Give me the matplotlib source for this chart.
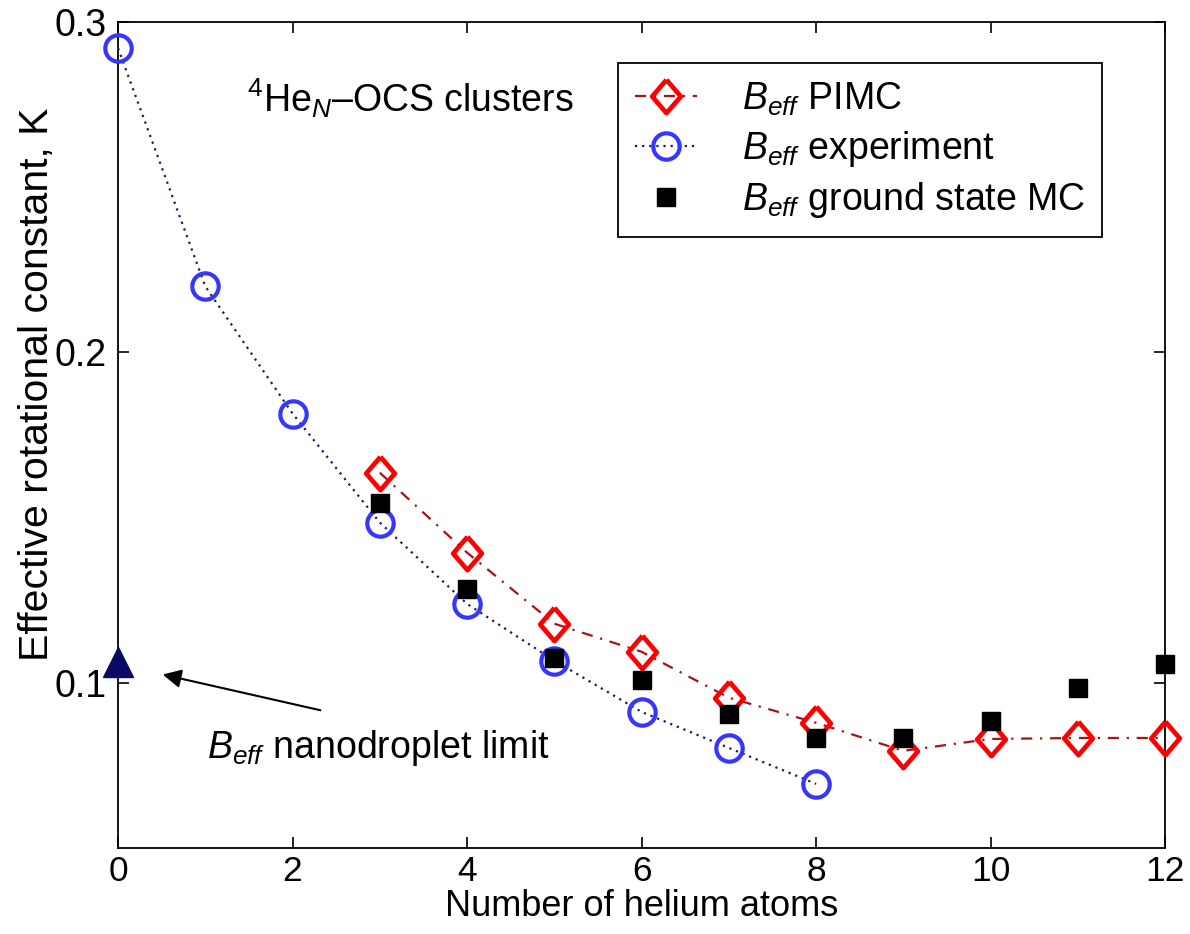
import numpy as np
import matplotlib
matplotlib.use('Agg')
import matplotlib.pyplot as plt

plt.rcParams['font.family'] = ['Liberation Sans', 'DejaVu Sans']
plt.rcParams['mathtext.fontset'] = 'custom'
plt.rcParams['mathtext.rm'] = 'Liberation Sans'
plt.rcParams['mathtext.it'] = 'Liberation Sans:italic'
plt.rcParams['mathtext.bf'] = 'Liberation Sans:bold'

# data (B in K)
n_pimc = np.arange(3, 13)
b_pimc = [0.1636, 0.1394, 0.1179, 0.1094, 0.0955, 0.0879, 0.0794, 0.0830, 0.0833, 0.0833]
n_exp = np.arange(0, 9)
b_exp = [0.2921, 0.2200, 0.1815, 0.1485, 0.1239, 0.1067, 0.0912, 0.0803, 0.0694]
n_mc = np.arange(3, 13)
b_mc = [0.1545, 0.1285, 0.1076, 0.1009, 0.0906, 0.0833, 0.0833, 0.0885, 0.0985, 0.1058]
n_drop = [0]
b_drop = [0.1064]

xticks = [0, 2, 4, 6, 8, 10, 12]
yticks = [0.1, 0.2, 0.3]
ytick_labels = ['0.1', '0.2', '0.3']

fs = 27
diamond = [(0, 1), (0.86, 0), (0, -1), (-0.86, 0), (0, 1)]

fig = plt.figure(figsize=(11.9, 9.34), dpi=100)
ax = fig.add_axes([0.0992, 0.0921, 0.8798, 0.8843])

ax.plot(n_pimc, b_pimc, color='#a51515', lw=1.6, dashes=(5, 3.5, 1, 3.5),
        marker=diamond, ms=24, mfc='none', mec='#ff0000', mew=3.4,
        clip_on=False, label=r'$B_{eff}$ PIMC', zorder=3)
ax.plot(n_exp, b_exp, color='#1c1c5c', lw=1.6, dashes=(1, 2.2),
        marker='o', ms=19, mfc='none', mec='#3636ff', mew=3.0,
        clip_on=False, label=r'$B_{eff}$ experiment', zorder=4)
ax.plot(n_mc, b_mc, ls='none', marker='s', ms=13.5, mfc='k', mec='k',
        clip_on=False, label=r'$B_{eff}$ ground state MC', zorder=5)
ax.plot(n_drop, b_drop, ls='none', marker='^', ms=22, mfc='#0a0a66', mec='#0a0a66',
        clip_on=False, zorder=5)

ax.annotate('', xy=(0.48, 0.1027), xytext=(2.35, 0.0915),
            arrowprops=dict(arrowstyle='-|>', color='k', lw=1.5, mutation_scale=28))
ax.text(1.02, 0.0773, r'$B_{eff}$ nanodroplet limit', fontsize=fs, va='baseline')
ax.text(0.1232, 0.891, r'${}^4$He$_N$–OCS clusters', fontsize=fs,
        transform=ax.transAxes, va='baseline')

ax.set_xlim(0, 12)
ax.set_ylim(0.05, 0.3)
ax.set_xticks(xticks)
ax.set_yticks(yticks)
ax.set_yticklabels(ytick_labels)
ax.tick_params(direction='in', length=8, width=1.2, top=True, right=True,
               labelsize=fs)
ax.tick_params(axis='x', pad=5, labelsize=25.5)
ax.tick_params(axis='y', pad=8)
for s in ax.spines.values():
    s.set_linewidth(1.3)

ax.set_xlabel('Number of helium atoms', fontsize=26, labelpad=0.5)
ax.set_ylabel('Effective rotational constant, K', fontsize=29.5)
ax.yaxis.set_label_coords(-0.059, 0.562)

leg = ax.legend(loc='upper right', bbox_to_anchor=(0.94, 0.95), fontsize=fs,
                frameon=True, fancybox=False, edgecolor='k', framealpha=1,
                handlelength=1.65, handletextpad=1.2, labelspacing=0.3,
                borderpad=0.45, borderaxespad=0)
leg.get_frame().set_linewidth(1.3)

fig.savefig('out.png', dpi=100)
